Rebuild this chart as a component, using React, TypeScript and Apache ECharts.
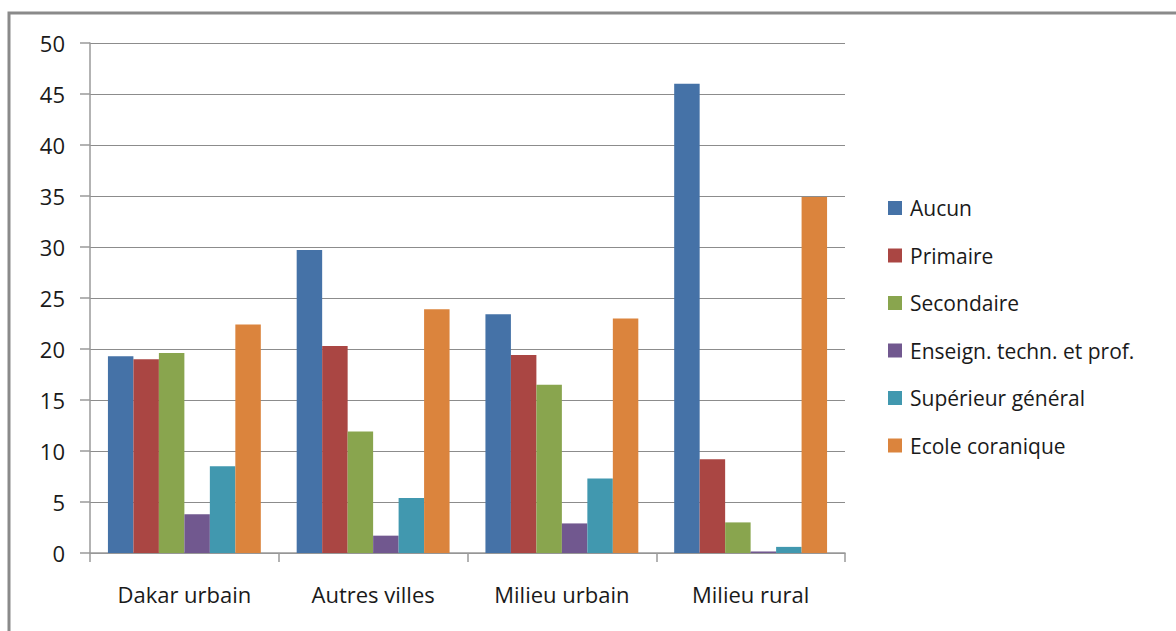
import React, { useEffect, useRef } from "react";
import * as echarts from "echarts";

const categories = ["Dakar urbain", "Autres villes", "Milieu urbain", "Milieu rural"];
const seriesNames = [
  "Aucun",
  "Primaire",
  "Secondaire",
  "Enseign. techn. et prof.",
  "Supérieur général",
  "Ecole coranique",
];
const aucun = [19.3, 29.7, 23.4, 46.0];
const primaire = [19.0, 20.3, 19.4, 9.2];
const secondaire = [19.6, 11.9, 16.5, 3.0];
const enseign = [3.8, 1.7, 2.9, 0.15];
const superieur = [8.5, 5.4, 7.3, 0.6];
const ecole = [22.4, 23.9, 23.0, 34.9];
const colors = ["#4572A7", "#AA4643", "#89A54E", "#71588F", "#4198AF", "#DB843D"];
const yTicks = [0, 5, 10, 15, 20, 25, 30, 35, 40, 45, 50];

export default function App() {
  const ref = useRef<HTMLDivElement>(null);
  useEffect(() => {
    document.body.style.margin = "0";
    if (!ref.current) return;
    const chart = echarts.init(ref.current, null, { renderer: "svg" });
    const values = [aucun, primaire, secondaire, enseign, superieur, ecole];
    const font = "'Open Sans', Lato, sans-serif";
    chart.setOption({
      animation: false,
      textStyle: { fontFamily: font },
      graphic: [
        {
          type: "rect",
          shape: { x: 9, y: 13, width: 1200, height: 700 },
          style: { fill: "none", stroke: "#8a8a8a", lineWidth: 3 },
          z: 100,
        },
      ],
      legend: {
        orient: "vertical",
        left: 883,
        top: 192,
        itemWidth: 14,
        itemHeight: 14,
        itemGap: 25.5,
        icon: "rect",
        data: seriesNames,
        textStyle: { fontSize: 21, color: "#1a1a1a", lineHeight: 22, padding: [0, 0, 0, 3], fontFamily: font },
      },
      grid: { left: 90, top: 43, width: 755, height: 510 },
      xAxis: {
        type: "category",
        data: categories,
        axisLine: { show: true, lineStyle: { color: "#9a9a9a", width: 1.5 } },
        axisTick: { show: true, length: 9, alignWithLabel: false, lineStyle: { color: "#9a9a9a", width: 1.5 } },
        axisLabel: { fontSize: 22, color: "#1a1a1a", margin: 30, fontFamily: font },
      },
      yAxis: {
        type: "value",
        min: yTicks[0],
        max: yTicks[yTicks.length - 1],
        interval: 5,
        axisLine: { show: true, lineStyle: { color: "#9a9a9a", width: 1.5 } },
        axisTick: { show: true, length: 10, lineStyle: { color: "#9a9a9a", width: 1.5 } },
        splitLine: { show: true, lineStyle: { color: "#8c8c8c", width: 1.2 } },
        axisLabel: { fontSize: 22, color: "#1a1a1a", margin: 25, fontFamily: font },
      },
      series: seriesNames.map((name, i) => ({
        name,
        type: "bar",
        data: values[i],
        barGap: "0%",
        barCategoryGap: "19%",
        itemStyle: { color: colors[i] },
      })),
    });
    return () => chart.dispose();
  }, []);
  return <div ref={ref} style={{ width: 1176, height: 631 }} />;
}
